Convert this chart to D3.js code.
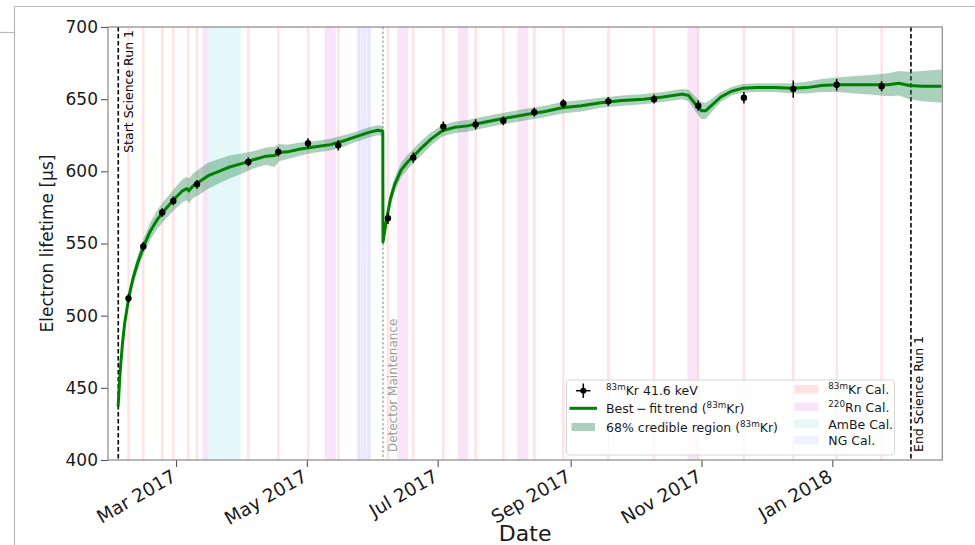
<!DOCTYPE html>
<html>
<head>
<meta charset="utf-8">
<script src="https://cdn.jsdelivr.net/npm/d3@7"></script>
<style>
  html, body { margin: 0; padding: 0; background: #fff; }
  svg { display: block; font-family: "DejaVu Sans", "Liberation Sans", sans-serif; }
</style>
</head>
<body>
<svg id="chart" width="975" height="545"></svg>
<script>
// ---------- data ----------
// 83mKr calibration measurements of the electron lifetime
const krDates = [
  "2017-02-06T20:00", "2017-02-13T18:00", "2017-02-22T14:00", "2017-02-27T18:00",
  "2017-03-10T19:00", "2017-04-03T17:00", "2017-04-17T17:00", "2017-05-01T13:00",
  "2017-05-15T16:00", "2017-06-07T20:00", "2017-06-19T15:00", "2017-07-03T15:00",
  "2017-07-18T17:00", "2017-07-31T15:00", "2017-08-15T01:00", "2017-08-28T14:00",
  "2017-09-18T13:00", "2017-10-09T21:00", "2017-10-30T12:00", "2017-11-20T19:00",
  "2017-12-13T19:00", "2018-01-03T01:00", "2018-01-24T00:00"
];
const krLifetime = [
  512, 548, 571.5, 579.5, 591, 606.5, 613.5, 619.5, 618, 567.5, 609.5, 631,
  632.5, 635, 641, 647, 648.5, 650, 645.5, 651, 657, 660, 659
];
const krError = [
  3, 3, 3, 3, 3, 3, 3, 3.5, 3.5, 4, 3.5, 3.5, 3.5, 3, 3, 3, 3, 3, 3.5, 4, 6, 4, 3.5
];

// best-fit trend and its 68% credible region
const trendDates = [
  "2017-02-02", "2017-02-03", "2017-02-04", "2017-02-05", "2017-02-07", "2017-02-09",
  "2017-02-11", "2017-02-14", "2017-02-17", "2017-02-20", "2017-02-23", "2017-02-26",
  "2017-03-01", "2017-03-04", "2017-03-06", "2017-03-07", "2017-03-09", "2017-03-12",
  "2017-03-16", "2017-03-21", "2017-03-26", "2017-04-01", "2017-04-06", "2017-04-12",
  "2017-04-16", "2017-04-18", "2017-04-22", "2017-04-28", "2017-05-05", "2017-05-12",
  "2017-05-18", "2017-05-24", "2017-05-30", "2017-06-03", "2017-06-05T10:00", "2017-06-05T12:00",
  "2017-06-07", "2017-06-09", "2017-06-11", "2017-06-14", "2017-06-17", "2017-06-20",
  "2017-06-24", "2017-06-28", "2017-07-03", "2017-07-09", "2017-07-15", "2017-07-21",
  "2017-07-28", "2017-08-04", "2017-08-12", "2017-08-20", "2017-08-28", "2017-09-06",
  "2017-09-15", "2017-09-25", "2017-10-05", "2017-10-14", "2017-10-23", "2017-10-26",
  "2017-10-29", "2017-11-01", "2017-11-03", "2017-11-06", "2017-11-10", "2017-11-15",
  "2017-11-20", "2017-11-27", "2017-12-05", "2017-12-13", "2017-12-20", "2017-12-27",
  "2018-01-03", "2018-01-12", "2018-01-20", "2018-01-27", "2018-02-01", "2018-02-06",
  "2018-02-12", "2018-02-21"
];
const trendMid = [
  437, 462, 480, 494, 513, 526, 536, 548.5, 558.5, 566, 572, 577,
  582, 586.5, 588, 586.5, 590, 593, 597, 600, 603, 605.5, 608, 610.5,
  611, 613, 613.5, 615.5, 617, 618.5, 621, 624, 627, 628.5, 628, 551,
  565, 581, 591, 601, 606.5, 611, 617, 622.5, 628, 630.5, 631.5, 633.5,
  635.5, 637.5, 639.5, 641.5, 644, 645.5, 647.5, 649, 650, 651.5, 653.5, 652.5,
  647, 642, 642, 646, 651.5, 655.5, 657.5, 658, 658, 657.5, 658, 659.5,
  660, 660, 660, 660, 661, 659.5, 659, 659
];
const trendLow = [
  435, 459, 476, 490, 508.5, 521, 531, 543, 552.5, 559.5, 565, 570,
  574.5, 578.5, 580, 578, 581.5, 584, 588, 591.5, 595, 598.5, 602, 604.5,
  603, 607, 608.5, 611, 613, 614.5, 617, 620.5, 623.5, 625, 624.5, 547,
  560, 576, 586, 596, 601.5, 606, 612, 618, 624, 626.5, 627.5, 629.5,
  631.5, 633.5, 635.5, 637.5, 640, 641.5, 644, 645.5, 646.5, 648, 650, 648.5,
  642, 636, 636.5, 641.5, 648, 652.5, 654.5, 655, 655, 654, 654, 655,
  655, 654, 653, 652, 652.5, 650, 648.5, 647.5
];
const trendHigh = [
  439, 465, 484, 498, 517.5, 531, 541, 554, 564.5, 572.5, 579, 584,
  589.5, 594.5, 596, 595, 598.5, 602, 606, 608.5, 611, 612.5, 614, 616.5,
  617, 619, 618.5, 620, 621, 622.5, 625, 627.5, 630.5, 632, 631.5, 555,
  570, 586, 596, 606, 611.5, 616, 622, 627, 632, 634.5, 635.5, 637.5,
  639.5, 641.5, 643.5, 645.5, 648, 649.5, 651, 652.5, 653.5, 655, 657, 656.5,
  652, 648, 647.5, 650.5, 655, 658.5, 660.5, 661, 661, 661, 662, 664,
  665, 666, 667, 668, 669.5, 669, 669.5, 670.5
];

// calibration campaigns [start, end]
const krCalPeriods = [
  ["2017-02-06T06:00", "2017-02-07T10:00"], ["2017-02-13T04:00", "2017-02-14T08:00"],
  ["2017-02-22T00:00", "2017-02-23T04:00"], ["2017-02-27T04:00", "2017-02-28T08:00"],
  ["2017-03-06T04:00", "2017-03-07T08:00"], ["2017-03-10T05:00", "2017-03-11T09:00"],
  ["2017-04-03T03:00", "2017-04-04T07:00"], ["2017-04-17T03:00", "2017-04-18T07:00"],
  ["2017-05-01T00:00", "2017-05-02T04:00"], ["2017-05-15T02:00", "2017-05-16T06:00"],
  ["2017-06-07T06:00", "2017-06-08T10:00"], ["2017-06-19T01:00", "2017-06-20T05:00"],
  ["2017-07-03T01:00", "2017-07-04T05:00"], ["2017-07-18T03:00", "2017-07-19T07:00"],
  ["2017-07-31T01:00", "2017-08-01T05:00"], ["2017-08-14T12:00", "2017-08-15T16:00"],
  ["2017-08-28T00:00", "2017-08-29T04:00"], ["2017-09-18T00:00", "2017-09-19T04:00"],
  ["2017-10-09T07:00", "2017-10-10T11:00"], ["2017-10-29T22:00", "2017-10-31T02:00"],
  ["2017-11-20T05:00", "2017-11-21T09:00"], ["2017-12-13T05:00", "2017-12-14T09:00"],
  ["2018-01-02T12:00", "2018-01-03T16:00"], ["2018-01-23T10:00", "2018-01-24T14:00"]
];
const rnCalPeriods = [
  ["2017-03-13T08:00", "2017-03-16T04:00"], ["2017-05-09T06:00", "2017-05-14T12:00"],
  ["2017-06-12T04:00", "2017-06-17T07:00"], ["2017-07-10T10:00", "2017-07-15T07:00"],
  ["2017-08-07T07:00", "2017-08-12T06:00"], ["2017-10-25T10:00", "2017-10-30T06:00"]
];
const ambeCalPeriods = [
  ["2017-03-16T04:00", "2017-03-31T05:00"]
];
const ngCalPeriods = [
  ["2017-05-24T06:00", "2017-05-25T20:00"], ["2017-05-25T02:00", "2017-05-26T18:00"],
  ["2017-05-26T10:00", "2017-05-28T00:00"], ["2017-05-27T12:00", "2017-05-29T04:00"],
  ["2017-05-28T20:00", "2017-05-30T08:00"], ["2017-05-29T16:00", "2017-05-30T22:00"]
];

const runStart = "2017-02-02T02:00";
const runEnd = "2018-02-06T16:00";
const maintenance = "2017-06-05T12:00";

const xDomain = ["2017-01-28T07:00", "2018-02-21T07:00"];
const xTicks = ["2017-03-01", "2017-05-01", "2017-07-01", "2017-09-01", "2017-11-01", "2018-01-01"];
const yDomain = [400, 700];
const yTicks = [400, 450, 500, 550, 600, 650, 700];

// ---------- setup ----------
const parseFull = d3.utcParse("%Y-%m-%dT%H:%M");
const toDate = s => parseFull(s.length === 10 ? s + "T00:00" : s);

const W = 975, H = 545;
const plot = { left: 108, right: 942.3, top: 27, bottom: 460 };

const svg = d3.select("#chart");
svg.append("rect").attr("width", W).attr("height", H).attr("fill", "#fff");

// page frame lines around the figure
const frame = svg.append("g").attr("stroke", "#b8b8b8").attr("stroke-width", 1.2);
frame.append("line").attr("x1", 14.5).attr("y1", 6.5).attr("x2", W).attr("y2", 6.5);
frame.append("line").attr("x1", 14.5).attr("y1", 6.5).attr("x2", 14.5).attr("y2", H);
frame.append("line").attr("x1", 0).attr("y1", 32.5).attr("x2", 14.5).attr("y2", 32.5);

const x = d3.scaleUtc().domain(xDomain.map(toDate)).range([plot.left, plot.right]);
const y = d3.scaleLinear().domain(yDomain).range([plot.bottom, plot.top]);

svg.append("defs").append("clipPath").attr("id", "plotClip")
  .append("rect")
  .attr("x", plot.left).attr("y", plot.top)
  .attr("width", plot.right - plot.left).attr("height", plot.bottom - plot.top);

const inner = svg.append("g").attr("clip-path", "url(#plotClip)");

// ---------- calibration spans ----------
const COLORS = {
  kr: "rgba(255,0,0,0.11)",
  rn: "rgba(191,0,191,0.1)",
  ambe: "rgba(0,191,191,0.1)",
  ng: "rgba(0,0,255,0.06)",
  band: "rgba(46,139,87,0.4)",
  line: "#008000"
};

function spans(periods, color) {
  inner.append("g").selectAll("rect").data(periods).join("rect")
    .attr("x", d => x(toDate(d[0])))
    .attr("width", d => Math.max(1, x(toDate(d[1])) - x(toDate(d[0]))))
    .attr("y", plot.top).attr("height", plot.bottom - plot.top)
    .attr("fill", color);
}
spans(ambeCalPeriods, COLORS.ambe);
spans(rnCalPeriods, COLORS.rn);
spans(ngCalPeriods, COLORS.ng);
spans(krCalPeriods, COLORS.kr);

// ---------- run boundaries ----------
inner.append("line")
  .attr("x1", x(toDate(runStart))).attr("x2", x(toDate(runStart)))
  .attr("y1", plot.top).attr("y2", plot.bottom)
  .attr("stroke", "#000").attr("stroke-width", 1.6).attr("stroke-dasharray", "4.5,2.5");
inner.append("line")
  .attr("x1", x(toDate(runEnd))).attr("x2", x(toDate(runEnd)))
  .attr("y1", plot.top).attr("y2", plot.bottom)
  .attr("stroke", "#000").attr("stroke-width", 1.6).attr("stroke-dasharray", "4.5,2.5");
inner.append("line")
  .attr("x1", x(toDate(maintenance))).attr("x2", x(toDate(maintenance)))
  .attr("y1", plot.top).attr("y2", plot.bottom)
  .attr("stroke", "#999").attr("stroke-width", 1.2).attr("stroke-dasharray", "2.5,2");

// ---------- trend ----------
const trend = trendDates.map((d, i) => ({
  date: toDate(d), mid: trendMid[i], lo: trendLow[i], hi: trendHigh[i]
}));

inner.append("path").datum(trend)
  .attr("fill", COLORS.band)
  .attr("d", d3.area().x(d => x(d.date)).y0(d => y(d.lo)).y1(d => y(d.hi)));

inner.append("path").datum(trend)
  .attr("fill", "none").attr("stroke", COLORS.line).attr("stroke-width", 3)
  .attr("stroke-linejoin", "round")
  .attr("d", d3.line().x(d => x(d.date)).y(d => y(d.mid)));

// ---------- measurements ----------
const pts = krDates.map((d, i) => ({ date: toDate(d), v: krLifetime[i], e: krError[i] }));
const pg = inner.append("g");
pg.selectAll("line.err").data(pts).join("line").attr("class", "err")
  .attr("x1", d => x(d.date)).attr("x2", d => x(d.date))
  .attr("y1", d => y(d.v - d.e)).attr("y2", d => y(d.v + d.e))
  .attr("stroke", "#000").attr("stroke-width", 1.5);
pg.selectAll("line.xerr").data(pts).join("line").attr("class", "xerr")
  .attr("x1", d => x(d.date) - 2.5).attr("x2", d => x(d.date) + 2.5)
  .attr("y1", d => y(d.v)).attr("y2", d => y(d.v))
  .attr("stroke", "#000").attr("stroke-width", 1.5);
pg.selectAll("circle").data(pts).join("circle")
  .attr("cx", d => x(d.date)).attr("cy", d => y(d.v)).attr("r", 3.2)
  .attr("fill", "#000");

// ---------- annotations ----------
function vtext(xp, yp, anchor, label, color, size) {
  svg.append("text")
    .attr("transform", `translate(${xp},${yp}) rotate(-90)`)
    .attr("text-anchor", anchor)
    .attr("font-size", size).attr("fill", color)
    .text(label);
}
vtext(x(toDate(runStart)) + 14.5, 30, "end", "Start Science Run 1", "#000", 12.5);
vtext(x(toDate(maintenance)) + 14, 452, "start", "Detector Maintenance", "#999", 12);
vtext(x(toDate(runEnd)) + 12.5, 452, "start", "End Science Run 1", "#000", 12.5);

// ---------- axes ----------
const yAxis = svg.append("g").attr("transform", `translate(${plot.left},0)`)
  .call(d3.axisLeft(y).tickValues(yTicks).tickSize(7).tickPadding(3).tickFormat(d3.format("d")));
yAxis.select(".domain").remove();
yAxis.selectAll(".tick line").attr("stroke", "#555").attr("stroke-width", 1.1);
yAxis.selectAll(".tick text").attr("font-size", 17).attr("fill", "#1a1a1a")
  .attr("font-family", "DejaVu Sans");

const xAxis = svg.append("g").attr("transform", `translate(0,${plot.bottom})`)
  .call(d3.axisBottom(x).tickValues(xTicks.map(toDate)).tickSize(7)
    .tickFormat(d3.utcFormat("%b %Y")));
xAxis.select(".domain").remove();
xAxis.selectAll(".tick line").attr("stroke", "#555").attr("stroke-width", 1.1);
xAxis.selectAll(".tick text")
  .attr("font-size", 18.5).attr("fill", "#1a1a1a").attr("font-family", "DejaVu Sans")
  .attr("y", null).attr("dy", null)
  .attr("text-anchor", "end")
  .attr("transform", "translate(1,20) rotate(-30)");

// plot frame
svg.append("rect")
  .attr("x", plot.left).attr("y", plot.top)
  .attr("width", plot.right - plot.left).attr("height", plot.bottom - plot.top)
  .attr("fill", "none").attr("stroke", "#888").attr("stroke-width", 1.2);

// axis titles
svg.append("text")
  .attr("x", (plot.left + plot.right) / 2).attr("y", 541)
  .attr("text-anchor", "middle").attr("font-size", 22).attr("fill", "#1a1a1a")
  .text("Date");
svg.append("text")
  .attr("transform", `translate(53,${(plot.top + plot.bottom) / 2}) rotate(-90)`)
  .attr("text-anchor", "middle").attr("font-size", 17).attr("fill", "#1a1a1a")
  .text("Electron lifetime [μs]");

// ---------- legend ----------
const lg = svg.append("g");
lg.append("rect")
  .attr("x", 566.5).attr("y", 380).attr("width", 328).attr("height", 75).attr("rx", 3)
  .attr("fill", "rgba(255,255,255,0.8)").attr("stroke", "#d6d6d6").attr("stroke-width", 1);

const LFS = 12.5;
function legendText(xp, yp, parts) {
  const t = lg.append("text").attr("x", xp).attr("y", yp)
    .attr("font-size", LFS).attr("fill", "#1a1a1a");
  let sup = false;
  parts.forEach(p => {
    const isSup = p.startsWith("^");
    const s = t.append("tspan").text(isSup ? p.slice(1) : p);
    if (isSup && !sup) s.attr("dy", -5).attr("font-size", LFS * 0.7);
    if (!isSup && sup) s.attr("dy", 5);
    sup = isSup;
  });
}

// measurement marker
lg.append("line").attr("x1", 583.3).attr("x2", 583.3).attr("y1", 383.5).attr("y2", 398)
  .attr("stroke", "#000").attr("stroke-width", 1.5);
lg.append("line").attr("x1", 576).attr("x2", 590.5).attr("y1", 390.7).attr("y2", 390.7)
  .attr("stroke", "#000").attr("stroke-width", 1.5);
lg.append("circle").attr("cx", 583.3).attr("cy", 390.7).attr("r", 3).attr("fill", "#000");
legendText(606, 395, ["^83m", "Kr 41.6 keV"]);

lg.append("line").attr("x1", 569.5).attr("x2", 597).attr("y1", 408.3).attr("y2", 408.3)
  .attr("stroke", COLORS.line).attr("stroke-width", 3);
legendText(606, 412.8, ["Best\u2009−\u2009fit\u2009trend (", "^83m", "Kr)"]);

lg.append("rect").attr("x", 571.5).attr("y", 423).attr("width", 23.5).attr("height", 8)
  .attr("fill", COLORS.band);
legendText(606, 431.5, ["68% credible region (", "^83m", "Kr)"]);

const rightItems = [
  { color: COLORS.kr, y: 385, parts: ["^83m", "Kr Cal."] },
  { color: COLORS.rn, y: 402.5, parts: ["^220", "Rn Cal."] },
  { color: COLORS.ambe, y: 419.5, parts: ["AmBe Cal."] },
  { color: COLORS.ng, y: 436, parts: ["NG Cal."] }
];
rightItems.forEach(it => {
  lg.append("rect").attr("x", 794.3).attr("y", it.y).attr("width", 24).attr("height", 8.5)
    .attr("fill", it.color);
  legendText(828.3, it.y + 9, it.parts);
});
</script>
</body>
</html>
